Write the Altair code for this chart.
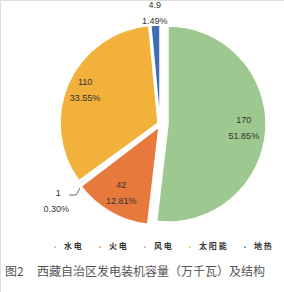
import altair as alt
import pandas as pd

NB = "\u00a0"
categories = ["水电", "火电", "风电", "太阳能", "地热"]
legend_labels = ["水" + NB + "电", "火" + NB + "电", "风" + NB + "电", "太" + NB + "阳" + NB + "能", "地" + NB + "热"]
values = [170, 42, 1, 110, 4.9]
percents = ["51.85%", "12.81%", "0.30%", "33.55%", "1.49%"]
value_labels = ["170", "42", "1", "110", "4.9"]
colors = ["#9DC88F", "#E8793D", "#A5A5A5", "#F2B13A", "#3F6DB5"]

df = pd.DataFrame({
    "cat": legend_labels,
    "value": values,
    "pct": percents,
    "vlab": value_labels,
    "order": list(range(len(values))),
})
total = sum(values)

theta_scale = alt.Scale(domain=[0, total], range=[0, 6.283185307])
color_scale = alt.Scale(domain=legend_labels, range=colors)

base = alt.Chart(df).transform_window(
    v1="sum(value)", sort=[alt.SortField("order")]
).transform_calculate(
    v0="datum.v1 - datum.value",
    mid="datum.v1 - datum.value/2",
)

# per-slice centres (explosion)
centers = {
    legend_labels[0]: (168, 124),
    legend_labels[1]: (159, 127),
    legend_labels[2]: (158, 125),
    legend_labels[3]: (158, 123),
    legend_labels[4]: (160, 123),
}

layers = []
for c in legend_labels:
    cx, cy = centers[c]
    arc = base.transform_filter(alt.datum.cat == c).mark_arc(
        outerRadius=98, stroke="white", strokeWidth=1.5
    ).encode(
        theta=alt.Theta("v0:Q", scale=theta_scale),
        theta2="v1:Q",
        color=alt.Color("cat:N", scale=color_scale, sort=legend_labels,
                        legend=alt.Legend(title=None, orient="none", legendX=51, legendY=243,
                                          direction="horizontal", symbolType="square",
                                          symbolSize=9, labelFontSize=8, labelFont="Noto Sans CJK SC",
                                          labelFontWeight="bold", labelColor="#333",
                                          columnPadding=13, symbolOffset=0, labelOffset=5)),
        x=alt.value(cx),
        y=alt.value(cy),
    )
    layers.append(arc)

label_radius = {legend_labels[0]: 76, legend_labels[1]: 76, legend_labels[2]: 127,
                legend_labels[3]: 80, legend_labels[4]: 110}
for c in legend_labels:
    cx, cy = centers[c]
    r = label_radius[c]
    f = base.transform_filter(alt.datum.cat == c)
    enc = dict(theta=alt.Theta("mid:Q", scale=theta_scale), x=alt.value(cx), y=alt.value(cy))
    dx1 = 2 if c == legend_labels[2] else 0
    t1 = f.mark_text(radius=r, dy=-8, dx=dx1, fontSize=9, font="Liberation Sans", color="#333").encode(text="vlab:N", **enc)
    t2 = f.mark_text(radius=r, dy=8, fontSize=9, font="Liberation Sans", color="#333").encode(text="pct:N", **enc)
    layers += [t1, t2]

# leader line for the wind slice
lead1 = alt.Chart(df).transform_filter(alt.datum.order == 2).mark_rule(color="#444", strokeWidth=0.8).encode(
    x=alt.value(69), x2=alt.value(76), y=alt.value(195), y2=alt.value(195))
lead2 = alt.Chart(df).transform_filter(alt.datum.order == 2).mark_rule(color="#444", strokeWidth=0.8).encode(
    x=alt.value(76), x2=alt.value(80), y=alt.value(195), y2=alt.value(188))
layers += [lead1, lead2]

fig_no = alt.Chart(df).transform_filter(alt.datum.order == 0).mark_text(
    align="left", baseline="middle", fontSize=12, font="Noto Sans CJK SC", color="#555"
).encode(x=alt.value(5), y=alt.value(272), text=alt.value("图2"))
title = alt.Chart(df).transform_filter(alt.datum.order == 0).mark_text(
    align="left", baseline="middle", fontSize=12, font="Noto Sans CJK SC", color="#555"
).encode(x=alt.value(37), y=alt.value(272), text=alt.value("西藏自治区发电装机容量（万千瓦）及结构"))
layers += [fig_no, title]

chart = alt.layer(*layers).properties(
    width=284, height=292, padding=0, autosize=alt.AutoSizeParams(type="none")
).configure_view(stroke=None).configure(background="white")

chart.save("out.html", embed_options={"renderer": "svg", "actions": False})
